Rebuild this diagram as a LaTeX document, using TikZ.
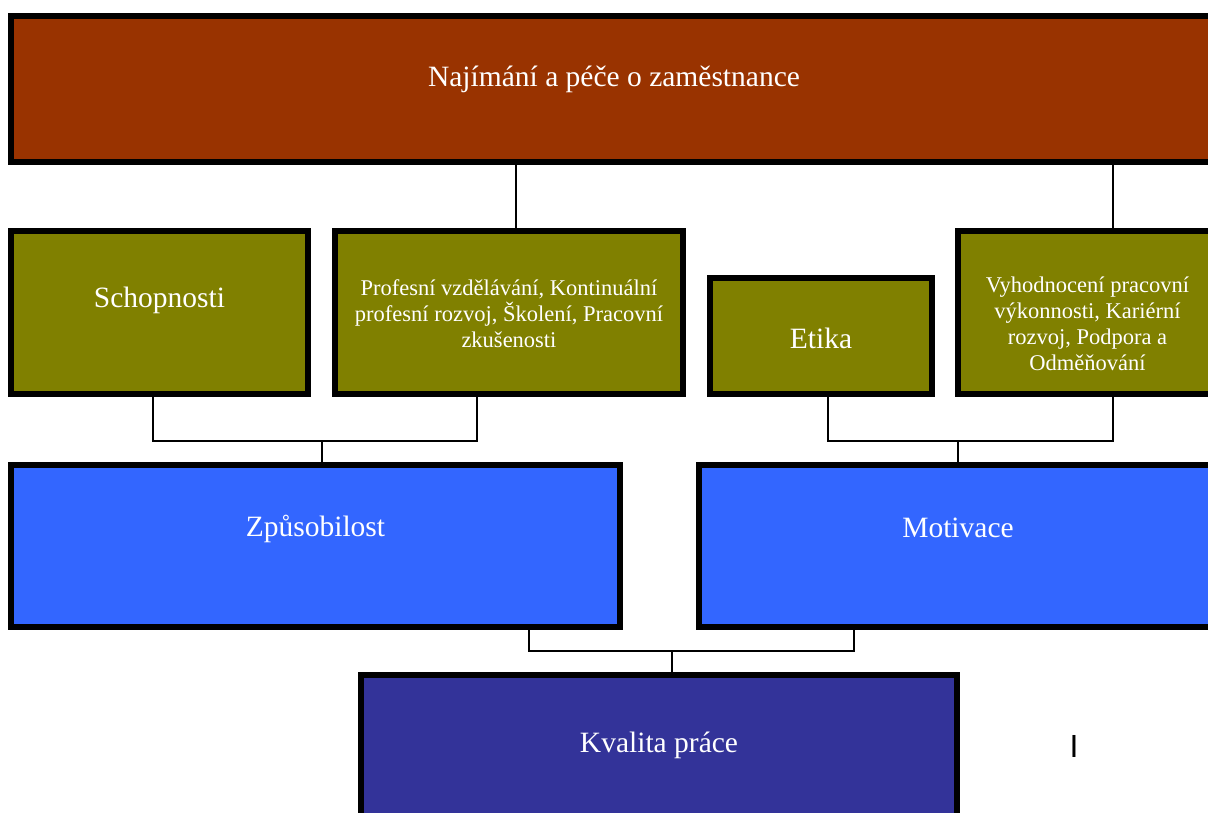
\documentclass[tikz,border=0pt]{standalone}
\usepackage{fontspec}
\setmainfont{Liberation Serif}
\setsansfont{Liberation Sans}
\usepackage{tikz}
\usetikzlibrary{positioning}
\definecolor{hirebrown}{RGB}{153,51,0}
\definecolor{skillolive}{RGB}{128,128,0}
\definecolor{groupblue}{RGB}{51,102,255}
\definecolor{resultnavy}{RGB}{51,51,153}

\begin{document}
\begin{tikzpicture}[x=1pt, y=-1pt]
  \tikzstyle{box} = [rectangle, draw=black, line width=6pt, inner sep=0pt, text=white, anchor=north west, font=\fontsize{29.5}{35}\selectfont]
  \tikzstyle{small} = [align=center, font=\fontsize{22.5}{26}\selectfont]
  \tikzstyle{link} = [draw=black, line width=1.5pt]

  \useasboundingbox (0,0) rectangle (1208,812);
  \clip (0,0) rectangle (1208,812);

  \node[box, fill=hirebrown, minimum width=1206pt, text height=70pt, text depth=76pt] (hire) at (8,13) {Najímání a péče o zaměstnance};

  \node[box, fill=skillolive, minimum width=297pt, text height=76pt, text depth=87pt] (schop) at (8,228) {Schopnosti};
  \node[box, small, fill=skillolive, minimum width=348pt, text height=116pt, text depth=47pt, right=21pt of schop.north east, anchor=north west] (prof) {Profesní vzdělávání, Kontinuální\\profesní rozvoj, Školení, Pracovní\\zkušenosti};
  \node[box, fill=skillolive, minimum width=222pt, text height=70pt, text depth=46pt] (etika) at (707,275) {Etika};
  \node[box, small, fill=skillolive, minimum width=259pt, text height=139pt, text depth=24pt, right=20pt of etika.south east, anchor=south west] (vyhod) {Vyhodnocení pracovní\\výkonnosti, Kariérní\\rozvoj, Podpora a\\Odměňování};

  \node[box, fill=groupblue, minimum width=609pt, text height=71pt, text depth=91pt, below=65pt of schop.south west, anchor=north west] (zpus) {Způsobilost};
  \node[box, fill=groupblue, minimum width=518pt, text height=72pt, text depth=90pt, right=73pt of zpus.north east, anchor=north west] (motiv) {Motivace};

  \node[box, fill=resultnavy, minimum width=596pt, text height=77pt, text depth=150pt] (kval) at (358,672) {Kvalita práce};

  \node[font=\sffamily\fontsize{32}{38}\selectfont, inner sep=0pt, anchor=base] (cursor) at (1074,757) {I};

  \coordinate (jz) at (322,441);
  \coordinate (jm) at (958,441);
  \coordinate (jk) at (672,651);

  \draw[link] (hire.south -| 516,0) -- (prof.north -| 516,0);
  \draw[link] (hire.south -| 1113,0) -- (vyhod.north -| 1113,0);
  \draw[link] (schop.south -| 153,0) |- (jz) -| (prof.south -| 477,0);
  \draw[link] (jz) -- (zpus.north -| jz);
  \draw[link] (etika.south -| 828,0) |- (jm) -| (vyhod.south -| 1113,0);
  \draw[link] (jm) -- (motiv.north -| jm);
  \draw[link] (zpus.south -| 529,0) |- (jk) -| (motiv.south -| 854,0);
  \draw[link] (jk) -- (kval.north -| jk);
\end{tikzpicture}
\end{document}
